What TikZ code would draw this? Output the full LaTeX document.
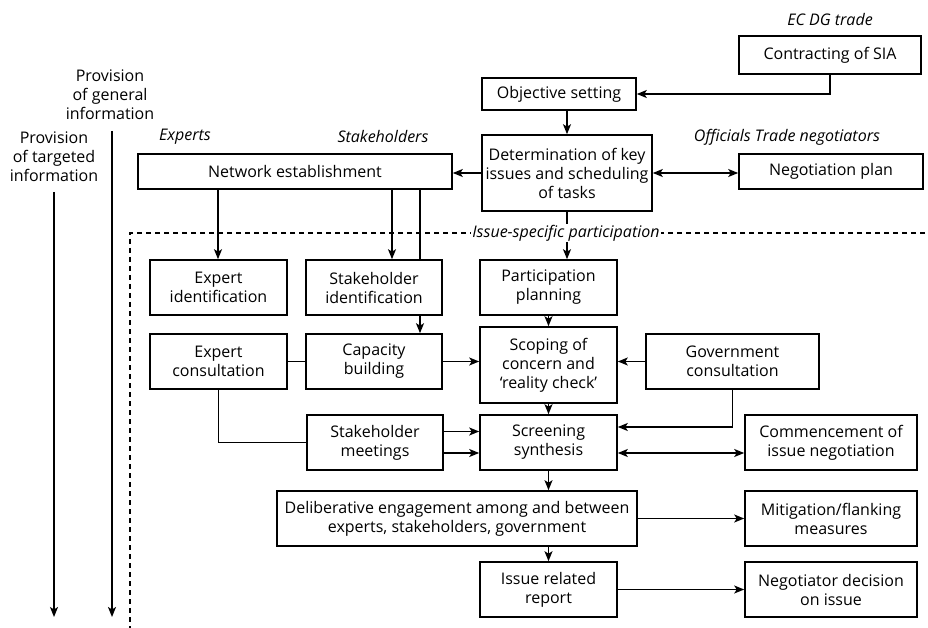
\documentclass[tikz,border=0pt]{standalone}
\usepackage{fontspec}
\setmainfont{Open Sans}
\usetikzlibrary{arrows.meta,calc}
\newcommand\dfont{\fontsize{16}{19}\selectfont}
\tikzset{
  box/.style={draw, line width=1.6pt, align=center, inner sep=0pt, font=\dfont},
  wh/.style 2 args={minimum width=#1pt, minimum height=#2pt},
  conn/.style={line width=1.5pt},
  arr/.style={conn, -{Stealth[length=10pt,width=8pt,inset=2.5pt]}},
  darr/.style={conn, {Stealth[length=10pt,width=8pt,inset=2.5pt]}-{Stealth[length=10pt,width=8pt,inset=2.5pt]}},
  lbl/.style={align=center, font=\dfont\itshape, inner sep=1pt},
  side/.style={align=center, font=\dfont, inner sep=0pt},
}
\begin{document}
\begin{tikzpicture}[x=1pt,y=-1pt]
\useasboundingbox (0,0) rectangle (928,628);
% boxes
\node[box, wh={182}{38}] (contract) at (830,55) {Contracting of SIA};
\node[box, wh={154}{32}] (obj) at (559,94) {Objective setting};
\node[box, wh={170}{76}] (det) at (567,173) {Determination of key\\issues and scheduling\\of tasks};
\node[box, wh={184}{35}] (negplan) at (831,171.5) {Negotiation plan};
\node[box, wh={314}{35}] (network) at (295,171.5) {Network establishment};
\node[box, wh={137}{55}] (expid) at (218.5,287.5) {Expert\\identification};
\node[box, wh={136}{55}] (stkid) at (374,287.5) {Stakeholder\\identification};
\node[box, wh={137}{55}] (partplan) at (548.5,287.5) {Participation\\planning};
\node[box, wh={137}{55}] (expcons) at (218.5,361.5) {Expert\\consultation};
\node[box, wh={136}{55}] (capbuild) at (374,361.5) {Capacity\\building};
\node[box, wh={137}{76}] (scoping) at (548.5,365) {Scoping of\\concern and\\`reality check'};
\node[box, wh={173}{55}] (govcons) at (732.5,361.5) {Government\\consultation};
\node[box, wh={136}{55}] (stkmeet) at (375,442.5) {Stakeholder\\meetings};
\node[box, wh={137}{55}] (screen) at (548.5,442.5) {Screening\\synthesis};
\node[box, wh={172}{55}] (commence) at (831,442.5) {Commencement of\\issue negotiation};
\node[box, wh={360}{55}] (delib) at (457,518.5) {Deliberative engagement among and between\\experts, stakeholders, government};
\node[box, wh={172}{55}] (mitig) at (831,518.5) {Mitigation/flanking\\measures};
\node[box, wh={137}{55}] (report) at (548.5,589.5) {Issue related\\report};
\node[box, wh={172}{55}] (negdec) at (831,589.5) {Negotiator decision\\on issue};
% labels
\node[lbl] (ecdg) at (830,20) {EC DG trade};
\node[lbl] (officials) at (787,137) {Officials Trade negotiators};
\node[lbl] (experts) at (185,137) {Experts};
\node[lbl] (stakeholders) at (383,137) {Stakeholders};
\node[side] (general) at (110,95) {Provision\\of general\\information};
\node[side] (targeted) at (54,157) {Provision\\of targeted\\information};
% side arrows
\coordinate (gtop) at (112,131);
\coordinate (gbot) at (112,617);
\coordinate (ttop) at (54,192);
\coordinate (tbot) at (54,617);
\draw[arr] (gtop) -- (gbot);
\draw[arr] (ttop) -- (tbot);
% connectors top
\draw[arr] (contract.south) |- (obj.east);
\draw[arr] (obj.south -| det.north) -- (det.north);
\draw[arr] (det.west) -- (det.west -| network.east);
\draw[darr] (det.east) -- (det.east -| negplan.west);
% network to identification
\coordinate (n1) at (218,189);
\coordinate (n2) at (392,189);
\coordinate (n3) at (420,189);
\draw[arr] (n1) -- (n1 |- expid.north);
\draw[arr] (n2) -- (n2 |- stkid.north);
\draw[conn] (n3) -- (n3 |- stkid.north);
\draw[arr] (n3 |- stkid.south) -- (n3 |- capbuild.north);
% dashed region
\coordinate (dr) at (925,233);
\coordinate (dc) at (130,233);
\coordinate (db) at (130,628);
\draw[line width=1.2pt, dash pattern=on 5pt off 4pt] (dr) -- (dc) -- (db);
\draw[arr] (det.south) -- (det.south |- partplan.north);
\node[lbl, fill=white] (issue) at (566,233) {Issue-specific participation};
% middle
\draw[arr] (partplan.south) -- (scoping.north);
\draw[conn] (expcons.east) -- (capbuild.west);
\draw[arr] (capbuild.east) -- (capbuild.east -| scoping.west);
\draw[arr] (govcons.west) -- (govcons.west -| scoping.east);
\coordinate (g1) at ([yshift=15.5pt]screen.east);
\draw[arr] (govcons.south) |- (g1);
\draw[arr] (scoping.south) -- (screen.north);
\draw[conn] (expcons.south) |- (stkmeet.west);
\coordinate (s1) at ([yshift=11pt]stkmeet.east);
\coordinate (s2) at ([yshift=-10.5pt]stkmeet.east);
\draw[arr] (s1) -- (s1 -| screen.west);
\draw[arr] (s2) -- (s2 -| screen.west);
\coordinate (c1) at ([yshift=-10.5pt]screen.east);
\draw[darr] (c1) -- (c1 -| commence.west);
\draw[arr] (screen.south) -- (screen.south |- delib.north);
\draw[arr] (delib.east) -- (mitig.west);
\draw[arr] (report.north |- delib.south) -- (report.north);
\draw[arr] (report.east) -- (negdec.west);
\end{tikzpicture}
\end{document}
